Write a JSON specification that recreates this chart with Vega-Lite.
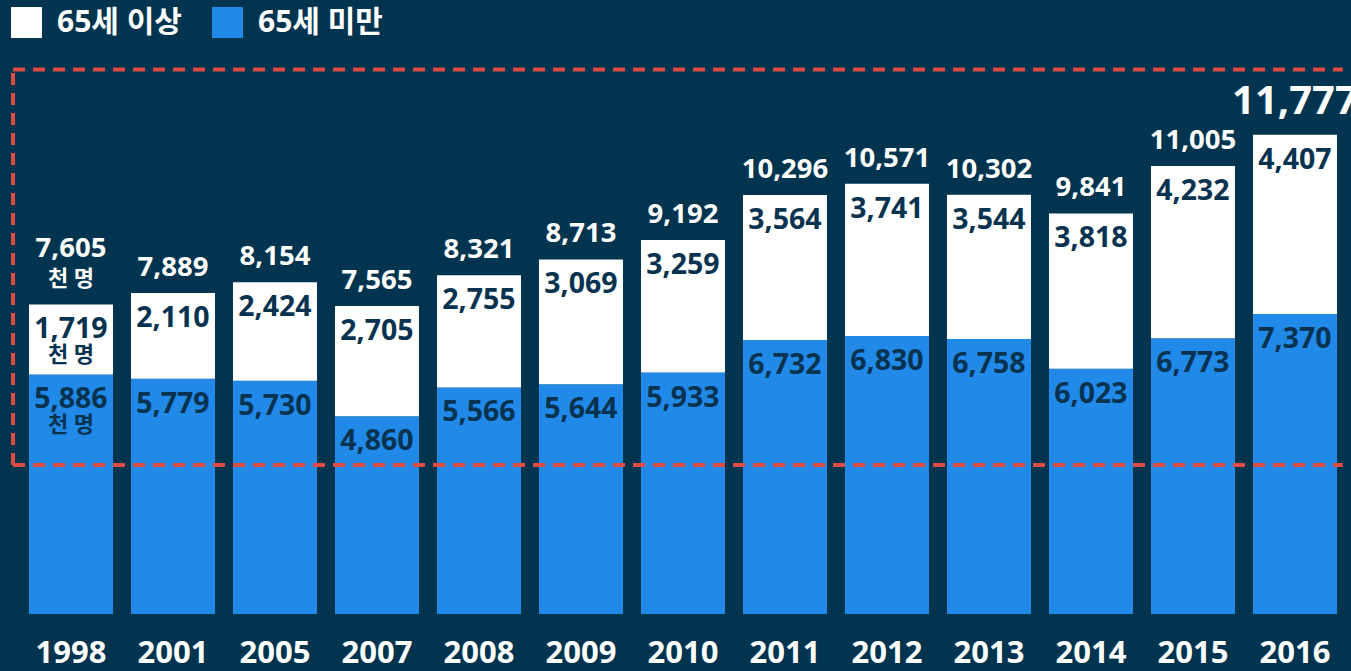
{
  "$schema": "https://vega.github.io/schema/vega-lite/v6.json",
  "width": 1351,
  "height": 614,
  "autosize": {"type": "none"},
  "padding": {"left": 0, "top": 0, "right": 0, "bottom": 57},
  "background": "#00344f",
  "config": {
    "view": {"stroke": null},
    "font": "Noto Sans, Noto Sans CJK KR",
    "axisX": {"domain": false, "ticks": false, "tickSize": 0, "grid": false, "labelAngle": 0, "labelFontSize": 31, "labelFontWeight": "bold", "labelColor": "#ffffff", "labelPadding": 24, "labelBaseline": "top", "labelFont": "Noto Sans, Noto Sans CJK KR"}
  },
  "datasets": {
    "pop": [
      {"year": "1998", "group": "65세 미만", "value": 5886, "unit": "천 명"},
      {"year": "1998", "group": "65세 이상", "value": 1719, "unit": "천 명"},
      {"year": "2001", "group": "65세 미만", "value": 5779},
      {"year": "2001", "group": "65세 이상", "value": 2110},
      {"year": "2005", "group": "65세 미만", "value": 5730},
      {"year": "2005", "group": "65세 이상", "value": 2424},
      {"year": "2007", "group": "65세 미만", "value": 4860},
      {"year": "2007", "group": "65세 이상", "value": 2705},
      {"year": "2008", "group": "65세 미만", "value": 5566},
      {"year": "2008", "group": "65세 이상", "value": 2755},
      {"year": "2009", "group": "65세 미만", "value": 5644},
      {"year": "2009", "group": "65세 이상", "value": 3069},
      {"year": "2010", "group": "65세 미만", "value": 5933},
      {"year": "2010", "group": "65세 이상", "value": 3259},
      {"year": "2011", "group": "65세 미만", "value": 6732},
      {"year": "2011", "group": "65세 이상", "value": 3564},
      {"year": "2012", "group": "65세 미만", "value": 6830},
      {"year": "2012", "group": "65세 이상", "value": 3741},
      {"year": "2013", "group": "65세 미만", "value": 6758},
      {"year": "2013", "group": "65세 이상", "value": 3544},
      {"year": "2014", "group": "65세 미만", "value": 6023},
      {"year": "2014", "group": "65세 이상", "value": 3818},
      {"year": "2015", "group": "65세 미만", "value": 6773},
      {"year": "2015", "group": "65세 이상", "value": 4232},
      {"year": "2016", "group": "65세 미만", "value": 7370},
      {"year": "2016", "group": "65세 이상", "value": 4407}
    ],
    "totals": [
      {"year": "1998", "total": 7605, "unit": "천 명"},
      {"year": "2001", "total": 7889},
      {"year": "2005", "total": 8154},
      {"year": "2007", "total": 7565},
      {"year": "2008", "total": 8321},
      {"year": "2009", "total": 8713},
      {"year": "2010", "total": 9192},
      {"year": "2011", "total": 10296},
      {"year": "2012", "total": 10571},
      {"year": "2013", "total": 10302},
      {"year": "2014", "total": 9841},
      {"year": "2015", "total": 11005},
      {"year": "2016", "total": 11777}
    ],
    "frame": [
      {"year": "1998", "year2": "2016", "lo": 3661, "hi": 13378}
    ]
  },
  "layer": [
    {
      "data": {"name": "pop"},
      "transform": [
        {"stack": "value", "groupby": ["year"], "sort": [{"field": "group", "order": "ascending"}], "as": ["v0", "v1"]}
      ],
      "layer": [
        {
          "mark": {"type": "bar"},
          "encoding": {
            "x": {"field": "year", "type": "nominal", "title": null,
                  "scale": {"domain": ["1998","2001","2005","2007","2008","2009","2010","2011","2012","2013","2014","2015","2016"], "paddingInner": 0.1765, "paddingOuter": 0.2108, "align": 0.674}},
            "y": {"field": "v1", "type": "quantitative", "axis": null, "scale": {"domain": [0, 15086], "nice": false, "zero": true}},
            "y2": {"field": "v0"},
            "color": {"field": "group", "type": "nominal",
                      "scale": {"domain": ["65세 이상", "65세 미만"], "range": ["#ffffff", "#2189e8"]},
                      "legend": {"title": null, "orient": "none", "legendX": 11, "legendY": 7, "direction": "horizontal", "symbolType": "square", "symbolSize": 961, "symbolStrokeWidth": 0, "symbolOpacity": 1, "labelColor": "#ffffff", "labelFontSize": 30, "labelFontWeight": "bold", "labelOffset": 15, "columnPadding": 30, "padding": 0, "labelFont": "Noto Sans, Noto Sans CJK KR"}}
          }
        },
        {
          "mark": {"type": "text", "baseline": "alphabetic", "dy": 34, "fontSize": 28.5, "fontWeight": "bold", "color": "#073350"},
          "encoding": {
            "x": {"field": "year", "type": "nominal", "title": null},
            "y": {"field": "v1", "type": "quantitative", "axis": null},
            "text": {"field": "value", "type": "quantitative", "format": ","}
          }
        },
        {
          "transform": [{"filter": "datum.unit != null"}],
          "mark": {"type": "text", "baseline": "alphabetic", "dy": 58, "fontSize": 22, "fontWeight": "bold", "color": "#073350"},
          "encoding": {
            "x": {"field": "year", "type": "nominal", "title": null},
            "y": {"field": "v1", "type": "quantitative", "axis": null},
            "text": {"field": "unit", "type": "nominal"}
          }
        }
      ]
    },
    {
      "data": {"name": "totals"},
      "transform": [{"filter": "datum.year != '1998' && datum.year != '2016'"}],
      "mark": {"type": "text", "baseline": "alphabetic", "dy": -17, "fontSize": 27.5, "fontWeight": "bold", "color": "#ffffff"},
      "encoding": {
        "x": {"field": "year", "type": "nominal", "title": null},
        "y": {"field": "total", "type": "quantitative", "axis": null},
        "text": {"field": "total", "type": "quantitative", "format": ","}
      }
    },
    {
      "data": {"name": "totals"},
      "transform": [{"filter": "datum.year == '2016'"}],
      "mark": {"type": "text", "baseline": "alphabetic", "dy": -21, "fontSize": 40, "fontWeight": "bold", "color": "#ffffff"},
      "encoding": {
        "x": {"field": "year", "type": "nominal", "title": null},
        "y": {"field": "total", "type": "quantitative", "axis": null},
        "text": {"field": "total", "type": "quantitative", "format": ","}
      }
    },
    {
      "data": {"name": "totals"},
      "transform": [{"filter": "datum.year == '1998'"}],
      "mark": {"type": "text", "baseline": "alphabetic", "dy": -47, "fontSize": 27.5, "fontWeight": "bold", "color": "#ffffff"},
      "encoding": {
        "x": {"field": "year", "type": "nominal", "title": null},
        "y": {"field": "total", "type": "quantitative", "axis": null},
        "text": {"field": "total", "type": "quantitative", "format": ","}
      }
    },
    {
      "data": {"name": "totals"},
      "transform": [{"filter": "datum.unit != null"}],
      "mark": {"type": "text", "baseline": "alphabetic", "dy": -18, "fontSize": 22, "fontWeight": "bold", "color": "#ffffff"},
      "encoding": {
        "x": {"field": "year", "type": "nominal", "title": null},
        "y": {"field": "total", "type": "quantitative", "axis": null},
        "text": {"field": "unit", "type": "nominal"}
      }
    },
    {
      "data": {"name": "frame"},
      "mark": {"type": "rule", "color": "#e04b43", "strokeWidth": 4, "strokeDash": [12, 8]},
      "encoding": {
        "x": {"field": "year", "type": "nominal", "title": null, "bandPosition": -0.19},
        "y": {"field": "lo", "type": "quantitative", "axis": null},
        "y2": {"field": "hi"}
      }
    },
    {
      "data": {"name": "frame"},
      "mark": {"type": "rule", "color": "#e04b43", "strokeWidth": 4, "strokeDash": [12, 8]},
      "encoding": {
        "x": {"field": "year", "type": "nominal", "title": null, "bandPosition": -0.19},
        "x2": {"field": "year2", "bandPosition": 1.07},
        "y": {"field": "hi", "type": "quantitative", "axis": null}
      }
    },
    {
      "data": {"name": "frame"},
      "mark": {"type": "rule", "color": "#e04b43", "strokeWidth": 4, "strokeDash": [12, 8]},
      "encoding": {
        "x": {"field": "year", "type": "nominal", "title": null, "bandPosition": -0.19},
        "x2": {"field": "year2", "bandPosition": 1.07},
        "y": {"field": "lo", "type": "quantitative", "axis": null}
      }
    }
  ]
}
